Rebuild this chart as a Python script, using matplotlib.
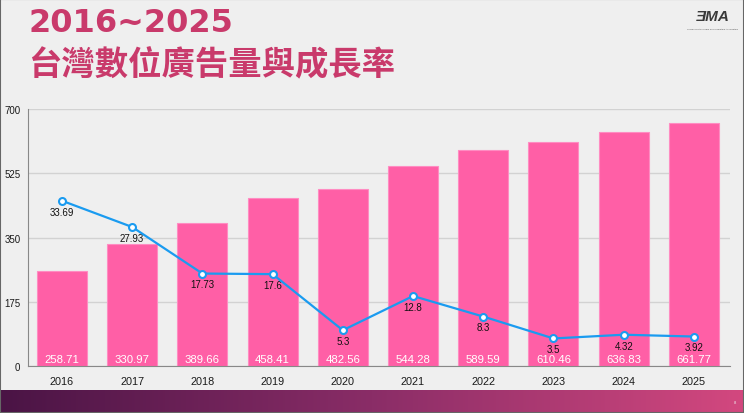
import matplotlib

matplotlib.use("Agg")
import matplotlib.pyplot as plt  # noqa: E402
import numpy as np  # noqa: E402
from matplotlib.colors import LinearSegmentedColormap  # noqa: E402
from matplotlib.patches import Rectangle  # noqa: E402

plt.rcParams["font.family"] = ["Liberation Sans", "Noto Sans CJK TC", "DejaVu Sans"]

YEARS = ["2016", "2017", "2018", "2019", "2020", "2021", "2022", "2023", "2024", "2025"]
AD_VOLUME = [258.71, 330.97, 389.66, 458.41, 482.56, 544.28, 589.59, 610.46, 636.83, 661.77]
GROWTH = [33.69, 27.93, 17.73, 17.6, 5.3, 12.8, 8.3, 3.5, 4.32, 3.92]
GROWTH_TXT = ["33.69", "27.93", "17.73", "17.6", "5.3", "12.8", "8.3", "3.5", "4.32", "3.92"]
Y_TICKS = [0, 175, 350, 525, 700]

BG = "#efefef"
PINK = "#ff5fa6"
TITLE = "#c93a6b"
BLUE = "#1a9bf0"

fig = plt.figure(figsize=(7.44, 4.14), dpi=100)
fig.patch.set_facecolor(BG)

ax = fig.add_axes([0.0376, 0.1135, 0.9435, 0.6208])
ax.set_facecolor(BG)
x = np.arange(len(YEARS))
ax.bar(x, AD_VOLUME, width=0.712, color=PINK, edgecolor="#ff8cc2", linewidth=0.8, zorder=2)
for i, v in enumerate(AD_VOLUME):
    ax.text(i, 18, f"{v:.2f}", ha="center", va="center", color="white", fontsize=8.2, zorder=5)

ax.set_xlim(-0.484, len(YEARS) - 0.487)
ax.set_ylim(0, 700)
ax.set_yticks(Y_TICKS)
ax.set_yticklabels([str(t) for t in Y_TICKS], fontsize=7)
ax.set_xticks(x)
ax.set_xticklabels(YEARS, fontsize=7.8)
ax.tick_params(axis="both", length=0, colors="#1a1a1a")
ax.tick_params(axis="y", pad=5.5)
ax.tick_params(axis="x", pad=7)
ax.grid(axis="y", color="#d2d2d2", linewidth=1, zorder=0)
ax.set_axisbelow(True)
for s in ["top", "right"]:
    ax.spines[s].set_visible(False)
ax.spines["left"].set_color("#888888")
ax.spines["bottom"].set_color("#888888")

ax2 = ax.twinx()
ax2.set_ylim(-2.54, 53.8)
ax2.axis("off")
ax2.plot(x, GROWTH, color=BLUE, linewidth=1.6, marker="o", markersize=5,
         markerfacecolor="white", markeredgecolor=BLUE, markeredgewidth=1.5, zorder=4)
for i, (g, t) in enumerate(zip(GROWTH, GROWTH_TXT)):
    ax2.annotate(t, (i, g), xytext=(0, -7.8), textcoords="offset points",
                 ha="center", va="center", fontsize=7, color="#111111")

fig.text(0.038, 0.944, "2016~2025", fontsize=23, fontweight="bold", color=TITLE,
         ha="left", va="center", family="DejaVu Sans")
fig.text(0.037, 0.84, "台灣數位廣告量與成長率", fontsize=24, fontweight="bold", color=TITLE,
         ha="left", va="center", family=["Noto Sans CJK TC", "DejaVu Sans"])

# logo
fig.text(0.958, 0.958, "ƎMA", fontsize=11, fontweight="bold", style="italic", color="#3a3a3a",
         ha="center", va="center")
fig.text(0.958, 0.93, "Taiwan Digital Media and Marketing Association", fontsize=1.7,
         color="#555555", ha="center", va="center")

# bottom gradient strip
cmap = LinearSegmentedColormap.from_list("strip", ["#4a1445", "#8a2d67", "#d3487f"])
band = fig.add_axes([0, 0, 1, 23 / 414])
band.imshow(np.linspace(0, 1, 256).reshape(1, -1), aspect="auto", cmap=cmap)
band.axis("off")
fig.text(0.988, 0.027, "8", fontsize=3, color="#eeeeee", ha="center", va="center")

fig.patches.append(Rectangle((0, 0), 1, 1, transform=fig.transFigure, fill=False,
                             edgecolor="#666666", linewidth=1.5, zorder=10))

fig.savefig("out.png", dpi=100, facecolor=BG)
